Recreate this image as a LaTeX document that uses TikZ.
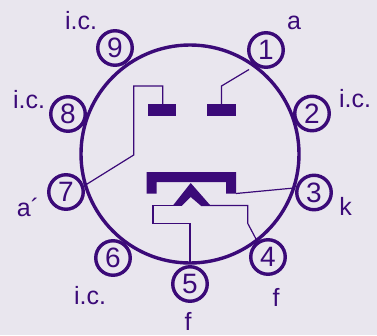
\documentclass[tikz,border=0pt]{standalone}
\usepackage{fontspec}
\setmainfont{Liberation Sans}
\definecolor{ink}{HTML}{3B0A78}
\definecolor{paper}{HTML}{E9E6EE}
\tikzset{
  pin/.style={circle,draw=ink,line width=3.4pt,minimum size=34.5pt,inner sep=0pt,text=ink,font=\fontsize{28}{28}\selectfont},
  lab/.style={anchor=base,text=ink,inner sep=0pt,font=\fontsize{25}{25}\selectfont},
  wire/.style={draw=ink,line width=1.2pt},
  elec/.style={fill=ink,draw=none}
}
\begin{document}
\begin{tikzpicture}[x=1pt,y=-1pt]
\useasboundingbox[fill=paper] (0,0) rectangle (377,335);
\draw[ink,line width=3.4pt] (190,154) circle[radius=109];
% electrodes
\node[elec,minimum width=28.6pt,minimum height=11.4pt,inner sep=0pt] (plateL) at (162,110) {};
\node[elec,minimum width=28.6pt,minimum height=11.4pt,inner sep=0pt] (plateR) at (221.6,110) {};
\fill[ink] (146.7,172) -- (236,172) -- (236,193.7) -- (226,193.7) -- (226,182) -- (156.7,182) -- (156.7,193.7) -- (146.7,193.7) -- cycle;
\fill[ink] (190.7,183) -- (210.7,205.8) -- (201,205.8) -- (190.7,197) -- (181.7,205.8) -- (172.7,205.8) -- cycle;
% named points
\coordinate (cathR) at (236,193.5);
\coordinate (e3) at (294,188);
\coordinate (hL) at (181.7,205.5);
\coordinate (hR) at (201,205.5);
\coordinate (e4) at (256,239);
\coordinate (e5) at (190,263);
\coordinate (e7) at (85.5,185);
\coordinate (e1) at (249,69.5);
\coordinate (aTop) at (162.7,104.5);
\coordinate (bTop) at (221.5,104.5);
% wires
\draw[wire] (aTop) -- (162.7,86) -- (133.7,86) -- (133.7,155) -- (e7);
\draw[wire] (bTop) -- (221.5,86) -- (e1);
\draw[wire] (cathR) -- (e3);
\draw[wire] (hL) -- (153,205.5) -- (153,223.3) -- (190,223.3) -- (e5);
\draw[wire] (hR) -- (247.7,205.5) -- (247.7,223.3) -- (e4);
% pins
\node[pin] (p1) at (266,50) {1};
\node[pin] (p2) at (312,113.5) {2};
\node[pin] (p3) at (314,192.5) {3};
\node[pin] (p4) at (268,257) {4};
\node[pin] (p5) at (190,284) {5};
\node[pin] (p6) at (113,258) {6};
\node[pin] (p7) at (66,192) {7};
\node[pin] (p8) at (68,114) {8};
\node[pin] (p9) at (115,48) {9};
% labels
\node[lab] (l9) at (81,29) {i.c.};
\node[lab] (l8) at (29,108) {i.c.};
\node[lab] (l2) at (355,107.5) {i.c.};
\node[lab] (l6) at (90,304) {i.c.};
\node[lab] (l7) at (28,216) {a´};
\node[lab] (l1) at (294,29) {a};
\node[lab] (l3) at (345.5,215.5) {k};
\node[lab] (l4) at (276,306.5) {f};
\node[lab] (l5) at (188,330) {f};
\end{tikzpicture}
\end{document}
